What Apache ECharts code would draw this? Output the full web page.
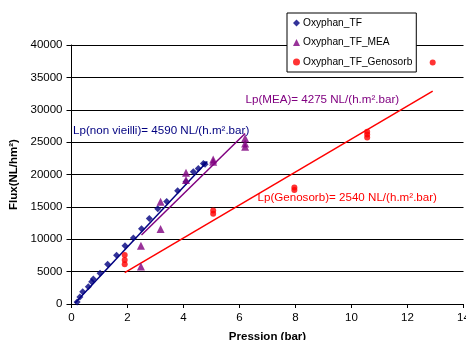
<!DOCTYPE html>
<html>
<head>
<meta charset="utf-8">
<script src="https://cdn.jsdelivr.net/npm/echarts@6/dist/echarts.min.js"></script>
<style>html,body{margin:0;padding:0;background:#fff;}#c{width:466px;height:340px;}</style>
</head>
<body>
<div id="c"></div>
<script>
const seriesNames = ['Oxyphan_TF', 'Oxyphan_TF_MEA', 'Oxyphan_TF_Genosorb'];
const tfX = [0.2, 0.3, 0.4, 0.6, 0.72, 0.78, 1.02, 1.29, 1.61, 1.91, 2.21, 2.5, 2.78, 3.08, 3.4, 3.79, 4.09, 4.35, 4.53, 4.71, 4.77];
const tfY = [300, 1100, 1900, 2670, 3440, 3860, 4730, 6120, 7510, 9000, 10190, 11630, 13220, 14710, 15840, 17490, 18880, 20420, 20940, 21700, 21600];
const meaX = [2.48, 2.48, 3.18, 3.18, 4.09, 4.09, 5.06, 5.06, 6.2, 6.2, 6.2];
const meaY = [9000, 5800, 11600, 15800, 20270, 19140, 22300, 21960, 25600, 24800, 24300];
const genX = [1.9, 1.9, 1.9, 5.06, 5.06, 7.96, 7.96, 10.56, 10.56, 10.56, 12.9];
const genY = [7560, 6800, 6150, 14450, 13950, 18000, 17600, 26590, 26190, 25720, 37300];
const tfFitX = [0.12, 4.85];
const tfFitY = [100, 22000];
const meaFitX = [2.5, 6.2];
const meaFitY = [10650, 26340];
const genFitX = [1.9, 12.9];
const genFitY = [4830, 32870];
const annotations = [
  'Lp(non vieilli)= 4590 NL/(h.m².bar)',
  'Lp(MEA)= 4275 NL/(h.m².bar)',
  'Lp(Genosorb)= 2540 NL/(h.m².bar)'
];
const xName = 'Pression (bar)';
const yName = 'Flux(NL/hm²)';

const zip = (a, b) => a.map((v, i) => [v, b[i]]);
const FONT = 'Liberation Sans, Arial, sans-serif';
const chart = echarts.init(document.getElementById('c'), null, {renderer: 'canvas'});
chart.setOption({
  animation: false,
  backgroundColor: '#fff',
  grid: {left: 71.5, right: 2.5, top: 45, bottom: 36, containLabel: false, outerBoundsMode: 'none'},
  xAxis: {
    type: 'value', min: 0, max: 14, interval: 2,
    name: xName, nameLocation: 'middle', nameGap: 27,
    nameTextStyle: {fontFamily: FONT, fontWeight: 'bold', fontSize: 11.5, color: '#000'},
    axisLine: {lineStyle: {color: '#000', width: 1}},
    axisTick: {show: true, length: 4, lineStyle: {color: '#000'}},
    axisLabel: {fontFamily: FONT, fontSize: 11.5, color: '#000', margin: 8},
    splitLine: {show: false}
  },
  yAxis: {
    type: 'value', min: 0, max: 40000, interval: 5000,
    name: yName, nameLocation: 'middle', nameGap: 52,
    nameTextStyle: {fontFamily: FONT, fontWeight: 'bold', fontSize: 11.5, color: '#000'},
    axisLine: {show: true, lineStyle: {color: '#000', width: 1}},
    axisTick: {show: true, length: 5, lineStyle: {color: '#000'}},
    axisLabel: {fontFamily: FONT, fontSize: 11.5, color: '#000', margin: 9, formatter: v => String(v)},
    splitLine: {show: true, lineStyle: {color: '#000', width: 1}}
  },
  legend: {
    data: seriesNames,
    orient: 'vertical', left: 287, top: 13,
    backgroundColor: '#fff', borderColor: '#000', borderWidth: 1,
    padding: [4, 4, 4, 6], itemGap: 7.5,
    itemWidth: 7, itemHeight: 7,
    textStyle: {fontFamily: FONT, fontSize: 10.2, lineHeight: 12, color: '#000', padding: [0, 0, 0, -2]}
  },
  series: [
    {name: 'fitTF', type: 'line', data: zip(tfFitX, tfFitY), showSymbol: false, lineStyle: {color: '#000080', width: 1.5}, silent: true, z: 1},
    {name: 'fitMEA', type: 'line', data: zip(meaFitX, meaFitY), showSymbol: false, lineStyle: {color: '#800080', width: 1.5}, silent: true, z: 1},
    {name: 'fitGen', type: 'line', data: zip(genFitX, genFitY), showSymbol: false, lineStyle: {color: '#ff0000', width: 1.5}, silent: true, z: 1},
    {name: seriesNames[0], type: 'scatter', symbol: 'diamond', symbolSize: 7, data: zip(tfX, tfY), itemStyle: {color: '#000080'}, z: 3},
    {name: seriesNames[1], type: 'scatter', symbol: 'triangle', symbolSize: 8, data: zip(meaX, meaY), itemStyle: {color: '#800080'}, z: 3},
    {name: seriesNames[2], type: 'scatter', symbol: 'circle', symbolSize: 6, data: zip(genX, genY), itemStyle: {color: '#ff0000'}, z: 3}
  ],
  graphic: [
    {type: 'text', x: 73, y: 131, style: {text: annotations[0], fill: '#000080', font: '11.6px ' + FONT, textVerticalAlign: 'middle'}, z: 10},
    {type: 'text', x: 245.5, y: 100, style: {text: annotations[1], fill: '#800080', font: '11.6px ' + FONT, textVerticalAlign: 'middle'}, z: 10},
    {type: 'text', x: 257.5, y: 198, style: {text: annotations[2], fill: '#ff0000', font: '11.6px ' + FONT, textVerticalAlign: 'middle'}, z: 10}
  ]
});
</script>
</body>
</html>
